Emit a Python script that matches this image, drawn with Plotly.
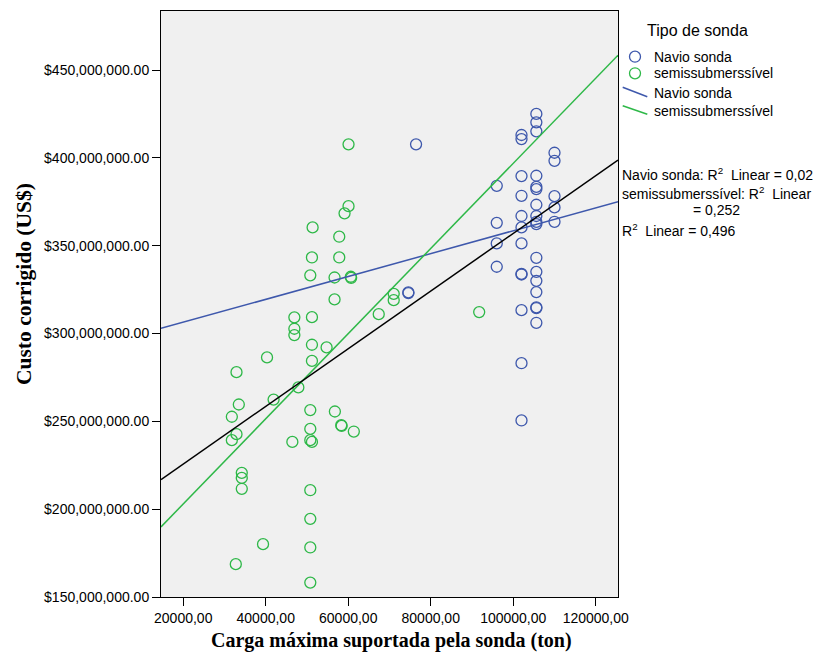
import numpy as np
import plotly.graph_objects as go

# Carga máxima (ton) e custo corrigido (milhões de US$) por tipo de sonda
navio_carga = [76436, 105600, 105600, 105600, 102000, 102000, 110000, 110000, 96000, 102000,
               105600, 105600, 105600, 102000, 110000, 105600, 110000, 102000, 105600, 96000,
               110000, 102000, 105600, 105600, 96000, 102000, 105600, 96000, 102000, 102000,
               105600, 105600, 105600, 105600, 105600, 102000, 105600, 102000, 102000, 74575,
               74575]
navio_custo = [407.7, 425.0, 420.2, 415.1, 413.0, 410.7, 402.9, 398.3, 384.1, 389.6,
               389.8, 383.5, 382.2, 378.4, 378.2, 373.3, 371.8, 366.9, 366.9, 363.0,
               363.6, 360.4, 363.6, 362.3, 351.3, 351.3, 343.1, 338.0, 334.0, 333.6,
               335.1, 330.0, 323.6, 314.9, 314.5, 313.3, 306.1, 283.1, 250.5, 323.4,
               323.0]

semi_carga = [60067, 60067, 59100, 51360, 57818, 51200, 57818, 50800, 56680, 60620,
              60700, 56680, 71020, 71020, 67390, 91740, 46935, 51200, 46935, 46935,
              51200, 54750, 51200, 40310, 32910, 47900, 41900, 33470, 31780, 32910,
              31780, 50800, 56760, 50800, 58300, 58400, 61350, 46450, 50800, 51200,
              34190, 34190, 34190, 50800, 50800, 39340, 50800, 32740, 50800]
semi_custo = [407.7, 372.5, 368.4, 360.4, 355.1, 343.3, 343.3, 333.1, 331.9, 332.3,
              331.7, 319.4, 322.6, 319.0, 311.0, 312.2, 309.2, 309.3, 302.7, 299.1,
              293.6, 292.1, 284.4, 286.4, 278.0, 269.3, 262.4, 259.6, 252.6, 242.7,
              239.3, 256.4, 255.6, 245.7, 247.8, 247.4, 244.2, 238.3, 239.3, 238.3,
              220.7, 217.8, 211.6, 210.8, 194.5, 180.1, 178.2, 168.7, 158.2]

# Retas de ajuste linear: intercepto (milhões US$) e inclinação (milhões US$/ton)
fit_navio = (293.4, 0.000651)
fit_semi = (154.5, 0.002424)
fit_total = (192.9, 0.001641)

x_range = [14607, 125393]
y_range = [150e6, 483.6e6]
y_ticks = [150e6, 200e6, 250e6, 300e6, 350e6, 400e6, 450e6]
x_ticks = [20000, 40000, 60000, 80000, 100000, 120000]

BLUE = "#3E58AC"
GREEN = "#2EB848"

fig = go.Figure()

def scatter(x, y, color):
    fig.add_trace(go.Scatter(
        x=x, y=np.array(y) * 1e6, mode="markers",
        marker=dict(symbol="circle-open", size=11, color=color, line=dict(width=1.3, color=color)),
        showlegend=False, hoverinfo="skip"))

def fit_line(coef, color):
    xs = np.array(x_range, dtype=float)
    ys = (coef[0] + coef[1] * xs) * 1e6
    fig.add_trace(go.Scatter(x=xs, y=ys, mode="lines",
                             line=dict(color=color, width=1.5),
                             showlegend=False, hoverinfo="skip"))

scatter(navio_carga, navio_custo, BLUE)
scatter(semi_carga, semi_custo, GREEN)
fit_line(fit_navio, BLUE)
fit_line(fit_semi, GREEN)
fit_line(fit_total, "#000000")

W, H = 816, 660
L, R, T, B = 161, 618, 11, 597
pw, ph = R - L, B - T

def px(x):
    return (x - L) / pw

def py(y):
    return (B - y) / ph

SANS = "Liberation Sans, Arial, sans-serif"

fig.update_layout(
    width=W, height=H,
    margin=dict(l=L, r=W - R, t=T, b=H - B, pad=0),
    paper_bgcolor="white", plot_bgcolor="#F0F0F0",
    font=dict(family=SANS, size=14, color="#000000"),
    showlegend=False,
)
fig.update_xaxes(
    range=x_range, tickvals=x_ticks,
    ticktext=[f"{v},00" for v in x_ticks],
    ticks="outside", ticklen=8, tickcolor="#000", tickwidth=1,
    showgrid=False, zeroline=False,
    showline=True, linecolor="#000", linewidth=1, mirror=True,
    tickfont=dict(family=SANS, size=14, color="#000"),
)
fig.update_yaxes(
    range=y_range, tickvals=y_ticks,
    ticktext=[f"${v:,.2f}" for v in y_ticks],
    ticks="outside", ticklen=8, tickcolor="#000", tickwidth=1,
    showgrid=False, zeroline=False,
    showline=True, linecolor="#000", linewidth=1, mirror=True,
    tickfont=dict(family=SANS, size=14, color="#000"),
)

serif_bold = dict(family="Liberation Serif, Times New Roman, serif", size=20, color="#000")
sans14 = dict(family=SANS, size=14, color="#000")
annotations = [
    dict(text="<b>Carga máxima suportada pela sonda (ton)</b>", x=px(391.5), y=py(640),
         font=serif_bold),
    dict(text="<b>Custo corrigido (US$)</b>", x=px(24), y=py(284), textangle=-90,
         font=dict(serif_bold, size=21.5)),
    dict(text="Tipo de sonda", x=px(645), y=py(30), xanchor="left",
         font=dict(family=SANS, size=16, color="#000")),
    dict(text="Navio sonda", x=px(652), y=py(56.7), xanchor="left", font=sans14),
    dict(text="semissubmerssível", x=px(652), y=py(73.3), xanchor="left", font=sans14),
    dict(text="Navio sonda", x=px(652), y=py(93.3), xanchor="left", font=sans14),
    dict(text="semissubmerssível", x=px(652), y=py(110.7), xanchor="left", font=sans14),
    dict(text="Navio sonda: R<sup>2</sup>&nbsp; Linear = 0,02", x=px(717.5), y=py(174.3),
         font=sans14),
    dict(text="semissubmerssível: R<sup>2</sup>&nbsp; Linear", x=px(716), y=py(192.7),
         font=sans14),
    dict(text="= 0,252", x=px(716.7), y=py(210), font=sans14),
    dict(text="R<sup>2</sup>&nbsp; Linear = 0,496", x=px(620), y=py(230), xanchor="left",
         font=sans14),
]
for a in annotations:
    a.setdefault("xanchor", "center")
    fig.add_annotation(xref="paper", yref="paper", yanchor="middle", showarrow=False, **a)

# Símbolos da legenda
shapes = []
for cy, col in [(56.7, BLUE), (73.3, GREEN)]:
    shapes.append(dict(type="circle", xref="paper", yref="paper",
                       x0=px(629.5), x1=px(640.5), y0=py(cy + 5.5), y1=py(cy - 5.5),
                       line=dict(color=col, width=1.3)))
for (y0, y1), col in [((87.3, 96.7), BLUE), ((105.7, 114.3), GREEN)]:
    shapes.append(dict(type="line", xref="paper", yref="paper",
                       x0=px(622.7), x1=px(647.3), y0=py(y0), y1=py(y1),
                       line=dict(color=col, width=1.5)))
fig.update_layout(shapes=shapes)

fig.write_html("out.html")
